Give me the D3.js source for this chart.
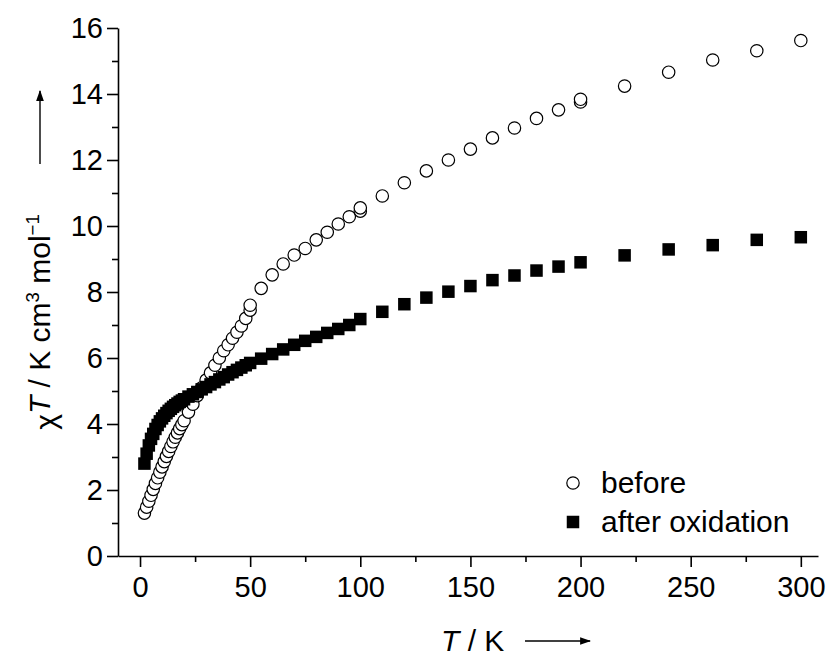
<!DOCTYPE html>
<html>
<head>
<meta charset="utf-8">
<script src="https://cdn.jsdelivr.net/npm/d3@7"></script>
<style>
  html, body { margin: 0; padding: 0; background: #fff; }
  svg { display: block; }
  text { font-family: "Liberation Sans", Arial, Helvetica, sans-serif; fill: #000; }
</style>
</head>
<body>
<svg id="chart" width="832" height="656"></svg>
<script>
// Temperature points (K) and chi*T values (K cm^3 mol^-1), sample before oxidation
const tBefore = [2,3,4,5,6,7,8,9,10,11,12,13,14,15,16,17,18,19,20,
  22,24,26,28,30,32,34,36,38,40,42,44,46,48,50,50,
  55,60,65,70,75,80,85,90,95,100,100,
  110,120,130,140,150,160,170,180,190,200,200,
  220,240,260,280,300];
const chiTBefore = [1.30,1.48,1.66,1.84,2.02,2.20,2.37,2.54,2.70,2.86,3.02,3.17,3.32,3.46,3.60,3.73,3.86,3.98,4.10,
  4.36,4.60,4.86,5.10,5.33,5.55,5.78,6.00,6.22,6.40,6.60,6.78,6.97,7.20,7.45,7.60,
  8.11,8.52,8.85,9.12,9.32,9.58,9.81,10.06,10.28,10.45,10.55,
  10.91,11.31,11.67,12.00,12.33,12.67,12.97,13.26,13.52,13.76,13.84,
  14.24,14.66,15.03,15.31,15.62];

// Same compound after oxidation
const tAfter = [2,3,4,5,6,7,8,9,10,11,12,13,14,15,16,17,18,19,20,
  22,24,26,28,30,32,34,36,38,40,42,44,46,48,50,
  55,60,65,70,75,80,85,90,95,100,
  110,120,130,140,150,160,170,180,190,200,
  220,240,260,280,300];
const chiTAfter = [2.80,3.10,3.35,3.55,3.70,3.85,3.97,4.08,4.17,4.25,4.33,4.40,4.46,4.52,4.57,4.62,4.67,4.71,4.75,
  4.83,4.90,4.97,5.05,5.12,5.20,5.27,5.35,5.42,5.50,5.57,5.64,5.71,5.78,5.85,
  5.98,6.12,6.26,6.40,6.52,6.64,6.76,6.88,7.00,7.18,
  7.40,7.63,7.83,8.01,8.18,8.36,8.50,8.65,8.77,8.90,
  9.11,9.29,9.42,9.58,9.66];

const xMajorTicks = [0,50,100,150,200,250,300];
const xMinorTicks = [25,75,125,175,225,275];
const yMajorTicks = [0,2,4,6,8,10,12,14,16];
const yMinorTicks = [1,3,5,7,9,11,13,15];
const legendLabels = ["before", "after oxidation"];

const svg = d3.select("#chart");

const x = d3.scaleLinear().domain([-10, 307.8]).range([118, 818]);
const y = d3.scaleLinear().domain([0, 16]).range([556, 28]);

const FONT = 29, TITLE_FONT = 30;

// x axis
const gx = svg.append("g").attr("transform", `translate(0,${y(0)})`);
gx.call(d3.axisBottom(x).tickValues(xMajorTicks).tickSize(11).tickSizeOuter(0).tickPadding(9));
gx.append("g").call(d3.axisBottom(x).tickValues(xMinorTicks).tickSize(6).tickSizeOuter(0).tickFormat(""))
  .select(".domain").remove();

// y axis
const gy = svg.append("g").attr("transform", `translate(${x(-10)},0)`);
gy.call(d3.axisLeft(y).tickValues(yMajorTicks).tickSize(11).tickSizeOuter(0).tickPadding(4));
gy.append("g").call(d3.axisLeft(y).tickValues(yMinorTicks).tickSize(6).tickSizeOuter(0).tickFormat(""))
  .select(".domain").remove();

svg.selectAll(".domain, .tick line").attr("stroke", "#000").attr("stroke-width", 1.6);
svg.selectAll(".tick text")
  .attr("font-size", FONT)
  .attr("font-family", "Liberation Sans, Arial, sans-serif")
  .attr("fill", "#000");

// markers: open circles and filled squares
const R = 6.2, S = 12.5;
svg.append("g").selectAll("circle")
  .data(d3.zip(tBefore, chiTBefore))
  .join("circle")
  .attr("cx", d => x(d[0])).attr("cy", d => y(d[1]))
  .attr("r", R).attr("fill", "#fff").attr("stroke", "#000").attr("stroke-width", 1.2);

svg.append("g").selectAll("rect")
  .data(d3.zip(tAfter, chiTAfter))
  .join("rect")
  .attr("x", d => x(d[0]) - S / 2).attr("y", d => y(d[1]) - S / 2)
  .attr("width", S).attr("height", S).attr("fill", "#000");

// arrowhead
svg.append("defs").append("marker")
  .attr("id", "head").attr("viewBox", "0 0 10 10")
  .attr("refX", 9).attr("refY", 5)
  .attr("markerWidth", 11).attr("markerHeight", 11)
  .attr("markerUnits", "userSpaceOnUse")
  .attr("orient", "auto")
  .append("path").attr("d", "M0,1.5 L10,5 L0,8.5 Z").attr("fill", "#000");

// y axis title, read bottom to top; shifts in px so they cancel exactly
const SUP = 11;
const yTitle = svg.append("text")
  .attr("transform", "translate(50,322) rotate(-90)")
  .attr("text-anchor", "middle")
  .attr("font-size", TITLE_FONT);
yTitle.append("tspan").text("χ").attr("dy", 6);
yTitle.append("tspan").text("T").attr("font-style", "italic").attr("dy", -6);
yTitle.append("tspan").text(" / K cm");
yTitle.append("tspan").text("3").attr("font-size", TITLE_FONT * 0.62).attr("dy", -SUP);
yTitle.append("tspan").text(" mol").attr("dy", SUP);
yTitle.append("tspan").text("−1").attr("font-size", TITLE_FONT * 0.62).attr("dy", -SUP);

svg.append("line")
  .attr("x1", 40).attr("x2", 40).attr("y1", 164).attr("y2", 91)
  .attr("stroke", "#000").attr("stroke-width", 1.4)
  .attr("marker-end", "url(#head)");

// x axis title
const xTitle = svg.append("text")
  .attr("x", 441).attr("y", 651)
  .attr("font-size", TITLE_FONT);
xTitle.append("tspan").text("T").attr("font-style", "italic");
xTitle.append("tspan").text(" / K");

svg.append("line")
  .attr("x1", 525).attr("x2", 590).attr("y1", 641).attr("y2", 641)
  .attr("stroke", "#000").attr("stroke-width", 1.4)
  .attr("marker-end", "url(#head)");

// legend
const lg = svg.append("g");
const lx = 573, ly0 = 483, dy = 39;
lg.append("circle").attr("cx", lx).attr("cy", ly0).attr("r", R)
  .attr("fill", "#fff").attr("stroke", "#000").attr("stroke-width", 1.2);
lg.append("rect").attr("x", lx - S / 2).attr("y", ly0 + dy - S / 2)
  .attr("width", S).attr("height", S).attr("fill", "#000");
legendLabels.forEach((t, i) => {
  lg.append("text").attr("x", lx + 28).attr("y", ly0 + i * dy + 10)
    .attr("font-size", TITLE_FONT).text(t);
});
</script>
</body>
</html>
